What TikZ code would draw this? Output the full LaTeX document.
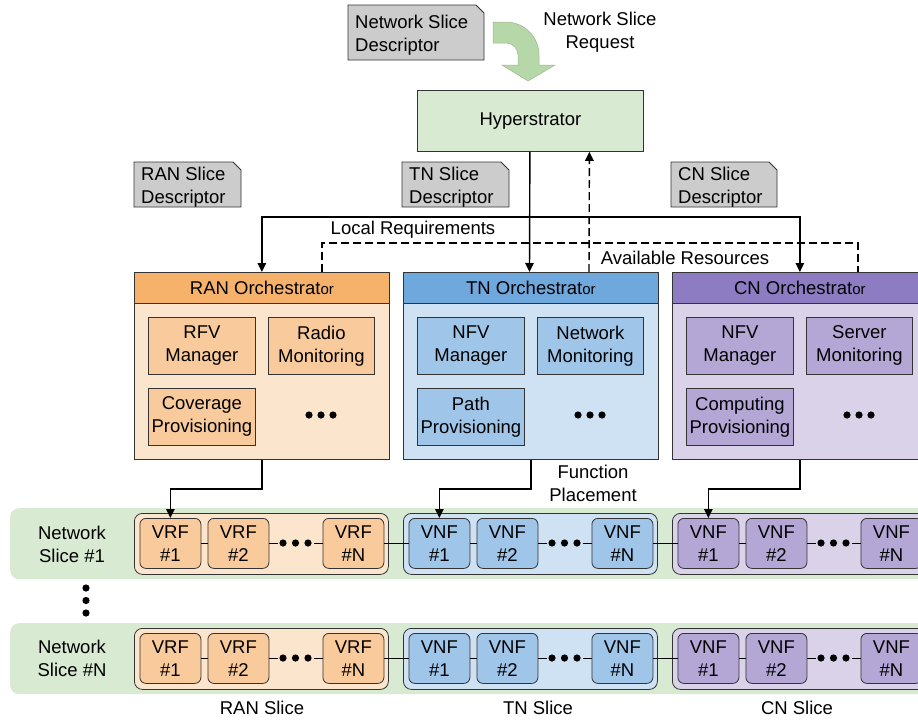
\documentclass[tikz,border=0pt]{standalone}
\usepackage{fontspec}
\setmainfont{Liberation Sans}
\usetikzlibrary{arrows.meta,calc}

\definecolor{edge}{HTML}{333333}
\definecolor{ranHead}{HTML}{F6B26B}
\definecolor{ranBody}{HTML}{FCE5CD}
\definecolor{ranFunc}{HTML}{F9CB9C}
\definecolor{tnHead}{HTML}{6FA8DC}
\definecolor{tnBody}{HTML}{CFE2F3}
\definecolor{tnFunc}{HTML}{9FC5E8}
\definecolor{cnHead}{HTML}{8E7CC3}
\definecolor{cnBody}{HTML}{D9D2E9}
\definecolor{cnFunc}{HTML}{B4A7D6}
\definecolor{hyperFill}{HTML}{D9EAD3}
\definecolor{reqArrow}{HTML}{B6D7A8}
\definecolor{descFill}{HTML}{CCCCCC}

\tikzset{
  every node/.style={font=\fontsize{18.5}{23}\selectfont, text=black},
  orchbody/.style={draw=edge, line width=0.8pt, anchor=north west,
    minimum width=255pt, minimum height=187pt, inner sep=0pt},
  orchhead/.style={draw=edge, line width=0.8pt, anchor=north west,
    minimum width=255pt, minimum height=31pt, inner sep=0pt},
  func/.style={draw=edge, line width=0.8pt, anchor=north west,
    minimum width=107pt, minimum height=57pt, inner sep=0pt, align=center},
  slicebox/.style={draw=edge, line width=0.8pt, rounded corners=8pt, anchor=north west,
    minimum width=254pt, minimum height=61pt, inner sep=0pt},
  vnf/.style={draw=edge, line width=0.8pt, rounded corners=6pt, anchor=north west,
    minimum width=61pt, minimum height=50pt, inner sep=0pt, align=center},
  band/.style={fill=hyperFill, rounded corners=9pt, anchor=north west,
    minimum width=940pt, minimum height=71pt, inner sep=0pt},
  desc/.style={fill=descFill, draw=edge, line width=0.8pt},
  link/.style={line width=1.4pt, draw=black},
  ctrl/.style={link, -{Triangle[length=9pt,width=8.5pt]}},
  dashedlink/.style={line width=1.4pt, dash pattern=on 8pt off 4pt},
  chain/.style={line width=0.9pt, draw=black},
}

% descriptor sheet with a clipped top-right corner
\newcommand\descriptor[6]{%
  \path[desc] (#2,#3) -- (#4-8,#3) -- (#4,#3+8) -- (#4,#5) -- (#2,#5) -- cycle;
  \node[anchor=west, align=left, inner sep=0pt] (#1) at (#2+7,{(#3+#5)/2+2.5}) {#6};
}

% domain orchestrator: name, x, title, header, body, function colour, three functions
\newcommand\orchestrator[9]{%
  \node[orchbody, fill=#5] (#1) at (#2,272) {};
  \node[orchhead, fill=#4] (#1Head) at (#2,272) {#3};
  \node[func, fill=#6] (#1FnA) at (#2+14,317) {#7};
  \node[func, fill=#6, minimum width=106pt] (#1FnB) at (#2+134,317) {#8};
  \node[func, fill=#6] (#1FnC) at (#2+14,388) {#9};
  \foreach \d in {175,187,199} \fill (#2+\d,415) circle (3.6pt);
}

% per-domain slice chain: name, x, y, body colour, function colour, function kind
\newcommand\slicegroup[6]{%
  \node[slicebox, fill=#4] (#1) at (#2,#3) {};
  \node[vnf, fill=#5] (#1A) at (#2+5.5,#3+5) {#6\\\#1};
  \node[vnf, fill=#5] (#1B) at (#2+73.5,#3+5) {#6\\\#2};
  \node[vnf, fill=#5] (#1N) at (#2+188.5,#3+5) {#6\\\#N};
  \draw[chain] (#1A) -- (#1B);
  \draw[chain] (#1B.east) -- ++(9,0);
  \draw[chain] (#1N.west) -- ++(-9,0);
  \foreach \d in {149,161.5,174} \fill (#2+\d,#3+30) circle (3.6pt);
}

\newcommand\smallor{{\fontsize{15}{18}\selectfont or}}

\begin{document}
\begin{tikzpicture}[x=1pt,y=-1pt]
\useasboundingbox (0,0) rectangle (918,720);
\clip (0,0) rectangle (918,720);

% request entering the hyperstrator
\descriptor{nsd}{348}{5}{484}{60}{Network Slice\\Descriptor}
\path[fill=reqArrow, draw=reqArrow!85!black, line width=0.5pt]
  (493,22) -- (506,22) .. controls (524.2,22) and (539,36.8) .. (539,55)
  -- (539,65) -- (555,65) -- (528,81) -- (502,65) -- (518,65) -- (518,55)
  .. controls (518,48.4) and (512.6,43) .. (506,43) -- (493,43) -- cycle;
\node[align=center] (nsr) at (600,32) {Network Slice\\Request};

\node[draw=edge, fill=hyperFill, line width=0.8pt, minimum width=226pt,
  minimum height=61pt, anchor=north west, inner sep=0pt] (hyper) at (417,90) {Hyperstrator};

% per-domain descriptors
\descriptor{ranD}{134}{162}{241}{207}{RAN Slice\\Descriptor}
\descriptor{tnD}{402}{162}{509}{207}{TN Slice\\Descriptor}
\descriptor{cnD}{671}{162}{777}{207}{CN Slice\\Descriptor}

% orchestrators
\orchestrator{ran}{134}{RAN Orchestrat\smallor}{ranHead}{ranBody}{ranFunc}
  {RFV\\Manager}{Radio\\Monitoring}{Coverage\\Provisioning}
\orchestrator{tn}{403}{TN Orchestrat\smallor}{tnHead}{tnBody}{tnFunc}
  {NFV\\Manager}{Network\\Monitoring}{Path\\Provisioning}
\orchestrator{cn}{672}{CN Orchestrat\smallor}{cnHead}{cnBody}{cnFunc}
  {NFV\\Manager}{Server\\Monitoring}{Computing\\Provisioning}

% local requirements pushed down
\coordinate (bus) at (529.5,217);
\draw[ctrl] ([xshift=-0.5pt]hyper.south) -- (bus |- tn.north);
\draw[ctrl] (bus) -| (ran.north);
\draw[ctrl] (bus) -| (cn.north);
\node (lreq) at (413,230) {Local Requirements};

% available resources reported up
\coordinate (resL) at (322,243);
\coordinate (resR) at (858,243);
\draw[dashedlink] ([xshift=188pt]ran.north west) -- (resL) -- (resR) -- ([xshift=186pt]cn.north west);
\draw[dashedlink, -{Triangle[length=9pt,width=8.5pt]}] ([xshift=186pt]tn.north west) -- ([xshift=59pt]hyper.south);
\node (ares) at (685,258) {Available Resources};

% network slice rows
\node[band] (row1) at (10,508) {};
\node[band] (rowN) at (10,623) {};
\node[align=center] (row1Label) at (72,544) {Network\\Slice \#1};
\node[align=center] (rowNLabel) at (72,658) {Network\\Slice \#N};

\slicegroup{ranS1}{134}{513}{ranBody}{ranFunc}{VRF}
\slicegroup{tnS1}{403}{513}{tnBody}{tnFunc}{VNF}
\slicegroup{cnS1}{672}{513}{cnBody}{cnFunc}{VNF}
\draw[chain] (ranS1N.east) -- (tnS1A.west);
\draw[chain] (tnS1N.east) -- (cnS1A.west);

\slicegroup{ranSN}{134}{628}{ranBody}{ranFunc}{VRF}
\slicegroup{tnSN}{403}{628}{tnBody}{tnFunc}{VNF}
\slicegroup{cnSN}{672}{628}{cnBody}{cnFunc}{VNF}
\draw[chain] (ranSNN.east) -- (tnSNA.west);
\draw[chain] (tnSNN.east) -- (cnSNA.west);

\foreach \yy in {588,600.5,613} \fill (86,\yy) circle (3.6pt);

% function placement
\draw[ctrl] (ran.south) -- ++(0,29) -| (ranS1A.north);
\draw[ctrl] (tn.south) -- ++(0,29) -| (tnS1A.north);
\draw[ctrl] (cn.south) -- ++(0,29) -| (cnS1A.north);
\node[align=center] (fplace) at (593,483) {Function\\Placement};

% domain captions
\node (ranCap) at (262,708) {RAN Slice};
\node (tnCap) at (538,708) {TN Slice};
\node (cnCap) at (797,708) {CN Slice};
\end{tikzpicture}
\end{document}
